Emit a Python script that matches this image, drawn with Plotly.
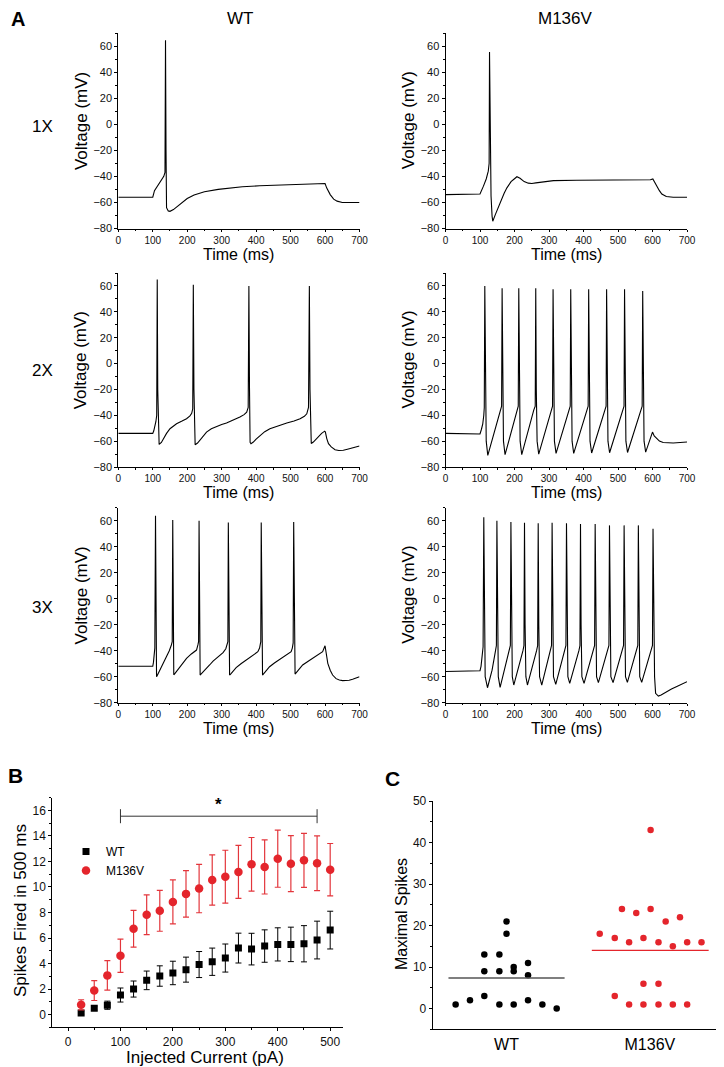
import plotly.graph_objects as go
import numpy as np

W, H = 724, 1067
PAGE_OFFSET = 8  # the page body margin shifts the plot by 8 px; layout positions below are page pixels
FONT = "Liberation Sans, Arial, sans-serif"
RED = "#e4252c"
RED_ERR = "#e3363c"

# ---------------- Panel A: voltage traces (time ms, voltage mV) ----------------
t_wt_1x = [0, 100, 105, 115, 125, 132, 135.5, 137, 138.5, 140, 145, 150, 160, 170, 185, 200, 220, 250,
           290, 320, 360, 410, 460, 510, 560, 600, 605, 615, 625, 635, 650, 670, 700]
v_wt_1x = [-56, -56, -51, -46.5, -43, -40, -37, 64.5, -20, -64, -66.5, -66.8, -65.5, -63.4, -60, -57, -54.3, -51.8,
           -50, -49, -48, -47.2, -46.8, -46.5, -46, -45.5, -49, -54, -57.5, -59, -60, -60.2, -60]

t_mv_1x = [0, 50, 100, 110, 118, 124, 126.5, 127.6, 129.5, 132, 135, 137, 145, 158, 170, 178, 190, 200, 207,
           216, 228, 240, 250, 262, 280, 313, 380, 430, 500, 560, 594, 601, 607, 613, 620, 627, 640, 660, 700]
v_mv_1x = [-54, -53.5, -53.5, -47.5, -42, -36, -30, 55.5, -10, -55, -70.5, -74.4, -69, -60.3, -53, -48.8, -44, -41.8, -40.3,
           -41.5, -44, -45.2, -45.5, -45, -44.2, -43.3, -43, -43, -42.6, -42.5, -42.6, -42, -45, -48, -51, -53.5, -55.5, -56, -56]

t_wt_2x = [0, 100, 103, 106, 109, 111.5, 113, 114.5, 116.5, 118.5, 125, 131, 140, 150, 160, 169, 185, 198, 208, 213, 216,
           217.7, 219.5, 221.5, 223, 230, 237, 246, 256, 270, 285, 300, 314, 330, 353, 365, 372.6, 377,
           379, 380.8, 382.5, 385, 392, 400, 411, 425, 440, 465, 489, 510, 527.6, 540, 547, 552,
           554.5, 556.3, 558, 560, 566, 573, 580.6, 590, 599, 601, 605, 610, 618, 629, 640, 653, 665, 677, 690, 700]
v_wt_2x = [-54, -54, -52, -49, -45, -40, 65, -20, -61, -62.5, -61, -58, -54, -50.4, -48, -46.6, -44.5, -42.7, -40.5, -38.5, -35,
           61, -20, -61, -62.8, -61.5, -59.4, -56, -53, -50.5, -48.6, -47.2, -46, -44.2, -41.4, -39.5, -37.6, -34,
           60, -20, -61, -62, -60.7, -58.5, -55.6, -52.7, -50.4, -48, -46, -44.4, -42.7, -40.8, -38.9, -34,
           60, -20, -61.5, -61.8, -60.7, -58.5, -56.4, -54, -52.3, -53, -58, -62, -64.5, -66.6, -67.2, -67.1, -66.3, -65.3, -64.5, -63.8]

t_mv_2x = [0, 50, 100, 104, 108, 111, 112.4, 113.9, 115.5, 118, 122.6,
           140, 158, 162.6, 164.1, 165.7, 168, 172.6,
           190, 206.5, 210.9, 212.4, 214, 216.3, 221,
           238, 255.8, 260.1, 261.6, 263.2, 265.5, 270.2,
           288, 306, 310.3, 311.8, 313.4, 315.7, 320.4,
           339, 357, 361.5, 363, 364.6, 366.9, 371.6,
           391, 409, 413.5, 415, 416.6, 418.9, 423.6,
           443, 461, 465.5, 467, 468.6, 470.9, 475.6,
           495, 513, 517.5, 519, 520.6, 522.9, 527.6,
           547, 565.5, 570.1, 571.6, 573.2, 575.5, 580.2,
           590, 600, 605, 612, 620, 631, 645, 660, 680, 700]
v_mv_2x = [-54, -54.5, -54.5, -51, -46.6, -40, -34, 60, -20, -60, -71,
           -54, -36, -33, 58.2, -20, -60, -70.5,
           -53, -36, -33, 58.2, -20, -60, -70.5,
           -53, -36, -33, 58.2, -20, -60, -70,
           -53, -36, -33, 57.5, -20, -60, -69.5,
           -52.5, -36, -33, 57.5, -20, -60, -69.5,
           -52.5, -36, -33, 57.5, -20, -60, -69.2,
           -52.3, -36, -33, 57.5, -20, -60, -69,
           -52, -36, -33, 57.5, -20, -60, -68.8,
           -52, -36, -33, 56, -20, -60, -68.5,
           -60, -53, -56, -58, -60, -61, -61.5, -61.5, -61, -60.7]

t_wt_3x = [0, 50, 100, 102, 104, 106, 108, 109.5, 111, 113, 120.6, 130, 140, 148, 154, 156.5,
           158, 159.5, 161, 163, 170, 178, 188, 198, 212, 227, 231, 233,
           234.4, 236, 237.5, 240, 248, 256, 265, 275, 290, 304, 312, 316, 318,
           319.3, 321, 323, 326, 334, 342, 356, 371, 388, 405, 410, 412, 413.5,
           414.8, 416.5, 418.6, 421, 430, 439, 453, 468, 485, 501.6, 505, 507.5,
           509, 510.7, 513, 516, 525, 535, 550, 564, 580, 593, 600, 604, 608, 615, 622, 632, 641.5, 651, 661, 670, 680, 690, 700]
v_wt_3x = [-52, -52, -52, -49, -44.6, -38, 63.8, -20, -60, -59, -54.9, -49.5, -44.6, -40, -35.6, -33,
           60.5, -20, -58.5, -58, -55.5, -52.3, -49, -45.9, -42.5, -39.5, -35.6, -33,
           60, -20, -58.7, -58, -56, -53.6, -51, -48, -44.5, -41.5, -38.5, -35.6, -33,
           58.7, -20, -58.7, -58, -55.5, -53, -50, -47, -44, -40.8, -38, -35.6, -33,
           58.7, -20, -58.7, -58, -55, -52.3, -49.5, -46.7, -43.7, -40.8, -38, -34,
           59, -20, -58, -57, -54, -51, -48.3, -45.9, -43.5, -40.8, -36.2, -43, -49.7, -55, -58.7, -61.5, -62.6, -63, -63, -62.7, -62, -61, -60]

t_mv_3x = [0, 50, 100, 103, 106, 109, 111, 112.7, 115, 121.7,
           135, 145, 147.5, 149, 150.7, 153, 158.3,
           172, 185, 188, 189.6, 191.3, 193.6, 197.9,
           212, 224.5, 227.4, 229, 230.7, 233, 237.5,
           252, 264, 267.1, 268.7, 270.4, 272.7, 279,
           292, 304.5, 307.4, 309, 310.7, 313, 319.6,
           333, 346, 349.1, 350.7, 352.4, 354.7, 360.1,
           374, 386.7, 389.7, 391.3, 393, 395.3, 401.6,
           415, 429, 432.2, 433.8, 435.5, 437.8, 443.2,
           457, 470.7, 473.7, 475.3, 477, 479.3, 485.7,
           499, 513, 516.1, 517.7, 519.4, 521.7, 527.2,
           540, 554.4, 557.4, 559, 560.7, 563, 568.7,
           582, 596.9, 599.9, 601.5, 603.2, 606, 609, 617, 625, 640, 655, 669, 685, 700]
v_mv_3x = [-56, -55.5, -55.4, -52, -45, -37, 62.6, -20, -60, -68.5,
           -55, -40, -36, 60, -20, -60, -68.2,
           -54, -40, -36, 59, -20, -60, -66.4,
           -53, -40, -36, 58.5, -20, -60, -66.4,
           -53, -40, -36, 58, -20, -60, -66.4,
           -53, -40, -36, 58.5, -20, -60, -65.9,
           -53, -40, -36, 58, -20, -60, -65.1,
           -52.5, -40, -36, 57.4, -20, -60, -65.1,
           -52.5, -40, -36, 57.4, -20, -60, -64.6,
           -52.5, -40, -36, 56.4, -20, -60, -64.6,
           -52.5, -40, -36, 56.4, -20, -60, -64.4,
           -52.5, -40, -36, 56.4, -20, -60, -64.4,
           -52.5, -40, -36, 53.8, -20, -60, -72.8, -74.9, -74, -71.5, -69.5, -67.7, -65.6, -63.8]

traces_A = [
    (t_wt_1x, v_wt_1x), (t_mv_1x, v_mv_1x),
    (t_wt_2x, v_wt_2x), (t_mv_2x, v_mv_2x),
    (t_wt_3x, v_wt_3x), (t_mv_3x, v_mv_3x),
]
for t, v in traces_A:
    assert len(t) == len(v), (len(t), len(v))

time_ticks = [0, 100, 200, 300, 400, 500, 600, 700]
volt_ticks = [-80, -60, -40, -20, 0, 20, 40, 60]
col_labels = ["WT", "M136V"]
row_labels = ["1X", "2X", "3X"]

# ---------------- Panel B: spikes vs injected current ----------------
current_pA = [25, 50, 75, 100, 125, 150, 175, 200, 225, 250, 275, 300, 325, 350, 375, 400, 425, 450, 475, 500]
wt_spikes = [0.13, 0.5, 0.73, 1.53, 2.0, 2.68, 3.02, 3.26, 3.52, 3.92, 4.14, 4.43, 5.21, 5.13, 5.37, 5.5, 5.5, 5.55, 5.84, 6.62]
wt_err = [0.1, 0.15, 0.32, 0.55, 0.63, 0.73, 0.8, 0.92, 0.98, 1.02, 1.07, 1.1, 1.17, 1.24, 1.27, 1.3, 1.35, 1.42, 1.48, 1.48]
mv_spikes = [0.76, 1.88, 3.07, 4.61, 6.72, 7.82, 8.13, 8.83, 9.46, 9.88, 10.55, 10.81, 11.18, 11.78, 11.57, 12.22, 11.83, 12.09, 11.86, 11.36]
mv_err = [0.4, 0.78, 1.15, 1.3, 1.44, 1.56, 1.6, 1.72, 1.83, 1.9, 1.97, 2.07, 2.08, 2.1, 2.12, 2.24, 2.2, 2.12, 2.14, 2.05]
sig_start, sig_end, sig_level = 100, 475, 15.55
sig_cap = (15.0, 16.1)
sig_star_y = 16.45

# ---------------- Panel C: maximal spikes per cell ----------------
wt_max_x = [0.645, 0.745, 0.845, 0.845, 0.845, 0.95, 0.95, 0.95, 1.0, 1.0, 1.05, 1.05, 1.05, 1.15, 1.15, 1.15, 1.25, 1.35]
wt_max = [1, 2, 3, 13, 9, 13, 9, 1, 21, 18, 10, 9, 1, 11, 8, 2, 1, 0]
mv_max_x = [1.65, 1.755, 1.755, 1.805, 1.855, 1.855, 1.905, 1.955, 1.955, 1.955, 2.005, 2.005, 2.06, 2.06, 2.06,
            2.11, 2.16, 2.16, 2.21, 2.26, 2.26, 2.36]
mv_max = [18, 17, 3, 24, 16, 1, 23, 17, 6, 1, 43, 24, 16, 6, 1, 21, 15, 1, 22, 16, 1, 16]
groups = ["WT", "M136V"]
group_pos = [1, 2]


def fx(p):
    return (p - PAGE_OFFSET) / W


def fy(p):
    return 1 - (p - PAGE_OFFSET) / H


fig = go.Figure()

axis_common = dict(
    showline=True, linecolor="black", linewidth=1, mirror=False, automargin=False,
    showgrid=False, zeroline=False, ticks="outside", ticklen=3, tickwidth=1,
    tickcolor="black", tickfont=dict(family=FONT, size=11, color="#111"),
)

col_x = [(118.3, 359.5), (445.5, 687.0)]
row_y = [(33.0, 228.5), (273.0, 467.0), (507.7, 702.7)]

annotations = []


def label(text, x, y, size=17, angle=0, bold=False, xref="paper", yref="paper"):
    annotations.append(dict(text=f"<b>{text}</b>" if bold else text, x=x, y=y, xref=xref, yref=yref,
                            showarrow=False, textangle=angle, xanchor="center", yanchor="middle",
                            font=dict(family=FONT, size=size, color="black")))


layout = dict()
idx = 0
for r in range(3):
    for c in range(2):
        idx += 1
        t, v = traces_A[idx - 1]
        xa = "x" if idx == 1 else f"x{idx}"
        ya = "y" if idx == 1 else f"y{idx}"
        fig.add_trace(go.Scatter(x=t, y=v, mode="lines", xaxis=xa, yaxis=ya,
                                 line=dict(color="black", width=1.1), showlegend=False, hoverinfo="skip"))
        xk = "xaxis" if idx == 1 else f"xaxis{idx}"
        yk = "yaxis" if idx == 1 else f"yaxis{idx}"
        layout[xk] = dict(axis_common, domain=[fx(col_x[c][0]), fx(col_x[c][1])], range=[0, 700],
                          anchor=ya, tickvals=time_ticks, ticklen=2,
                          tickfont=dict(family=FONT, size=10, color="#111"),
                          minor=dict(dtick=50, ticklen=1.5, ticks="outside", tickcolor="black"))
        layout[yk] = dict(axis_common, domain=[fy(row_y[r][1]), fy(row_y[r][0])], range=[-80, 70],
                          anchor=xa, tickvals=volt_ticks,
                          minor=dict(dtick=10, ticklen=2, ticks="outside", tickcolor="black"))
        # axis titles
        label("Time (ms)", fx((col_x[c][0] + col_x[c][1]) / 2), fy(row_y[r][1] + 25.5), size=16)
        label("Voltage (mV)", fx(col_x[c][0] - 37), fy((row_y[r][0] + row_y[r][1]) / 2 - 10), size=17, angle=-90)

# Panel B
fig.add_trace(go.Scatter(
    x=current_pA, y=wt_spikes, mode="markers", name="WT", xaxis="x7", yaxis="y7",
    marker=dict(symbol="square", size=7, color="black"),
    error_y=dict(type="data", array=wt_err, color="black", thickness=1, width=3)))
fig.add_trace(go.Scatter(
    x=current_pA, y=mv_spikes, mode="markers", name="M136V", xaxis="x7", yaxis="y7",
    marker=dict(symbol="circle", size=8.5, color=RED),
    error_y=dict(type="data", array=mv_err, color=RED_ERR, thickness=1.2, width=3)))

layout["xaxis7"] = dict(axis_common, domain=[fx(52.3), fx(343.3)], range=[-30, 525], anchor="y7",
                        tickvals=[0, 100, 200, 300, 400, 500],
                        tickfont=dict(family=FONT, size=12, color="#111"),
                        minor=dict(dtick=50, ticklen=2, ticks="outside", tickcolor="black"))
layout["yaxis7"] = dict(axis_common, domain=[fy(1027.3), fy(797.7)], range=[-1, 17], anchor="x7",
                        tickvals=list(range(0, 17, 2)),
                        tickfont=dict(family=FONT, size=12, color="#111"),
                        minor=dict(dtick=1, ticklen=2, ticks="outside", tickcolor="black"))
label("Injected Current (pA)", fx(205), fy(1057), size=17)
label("Spikes Fired in 500 ms", fx(20), fy(911), size=17, angle=-90)

# Panel C
fig.add_trace(go.Scatter(x=wt_max_x, y=wt_max, mode="markers", xaxis="x8", yaxis="y8", showlegend=False,
                         marker=dict(size=6.5, color="black")))
fig.add_trace(go.Scatter(x=mv_max_x, y=mv_max, mode="markers", xaxis="x8", yaxis="y8", showlegend=False,
                         marker=dict(size=6.5, color=RED)))
wt_mean = float(np.mean(wt_max))
mv_mean = float(np.mean(mv_max))
fig.add_trace(go.Scatter(x=[group_pos[0] - 0.405, group_pos[0] + 0.405], y=[wt_mean, wt_mean], mode="lines",
                         xaxis="x8", yaxis="y8", showlegend=False, line=dict(color="#555555", width=1.5)))
fig.add_trace(go.Scatter(x=[group_pos[1] - 0.405, group_pos[1] + 0.41], y=[mv_mean, mv_mean], mode="lines",
                         xaxis="x8", yaxis="y8", showlegend=False, line=dict(color=RED, width=1.3)))

layout["xaxis8"] = dict(axis_common, domain=[fx(432.7), fx(723)], range=[0.485, 2.51], anchor="y8",
                        tickvals=group_pos, ticktext=groups, ticks="",
                        tickfont=dict(family=FONT, size=16, color="black"))
layout["yaxis8"] = dict(axis_common, domain=[fy(1029.3), fy(801)], range=[-5, 50], anchor="x8",
                        tickvals=[0, 10, 20, 30, 40, 50],
                        tickfont=dict(family=FONT, size=12, color="#111"),
                        minor=dict(dtick=5, ticklen=2, ticks="outside", tickcolor="black"))
label("Maximal Spikes", fx(401), fy(914), size=16, angle=-90)

shapes = [dict(type="path", xref="x7", yref="y7",
               path=f"M {sig_start},{sig_cap[1]} L {sig_start},{sig_cap[0]} M {sig_start},{sig_level} "
                    f"L {sig_end},{sig_level} M {sig_end},{sig_cap[1]} L {sig_end},{sig_cap[0]}",
               line=dict(color="#333", width=1))]

label("*", (sig_start + sig_end) / 2, sig_star_y, size=17, bold=True, xref="x7", yref="y7")
label("A", fx(18), fy(19), size=20, bold=True)
label("B", fx(15), fy(775), size=21, bold=True)
label("C", fx(392), fy(778), size=21, bold=True)
label(col_labels[0], fx(240), fy(19), size=17)
label(col_labels[1], fx(565), fy(19), size=17)
for r, txt in enumerate(row_labels):
    label(txt, fx(42), fy([127, 370, 607][r]), size=17)

fig.update_layout(
    width=W, height=H, autosize=False,
    margin=dict(l=0, r=0, t=0, b=0, autoexpand=False),
    paper_bgcolor="white", plot_bgcolor="white",
    font=dict(family=FONT, color="black"),
    showlegend=True,
    legend=dict(x=fx(66), y=fy(837), xanchor="left", yanchor="top", bgcolor="rgba(0,0,0,0)",
                font=dict(family=FONT, size=12, color="black"), itemwidth=30, tracegroupgap=0),
    shapes=shapes, annotations=annotations,
    **layout,
)

fig.write_html("out.html")
